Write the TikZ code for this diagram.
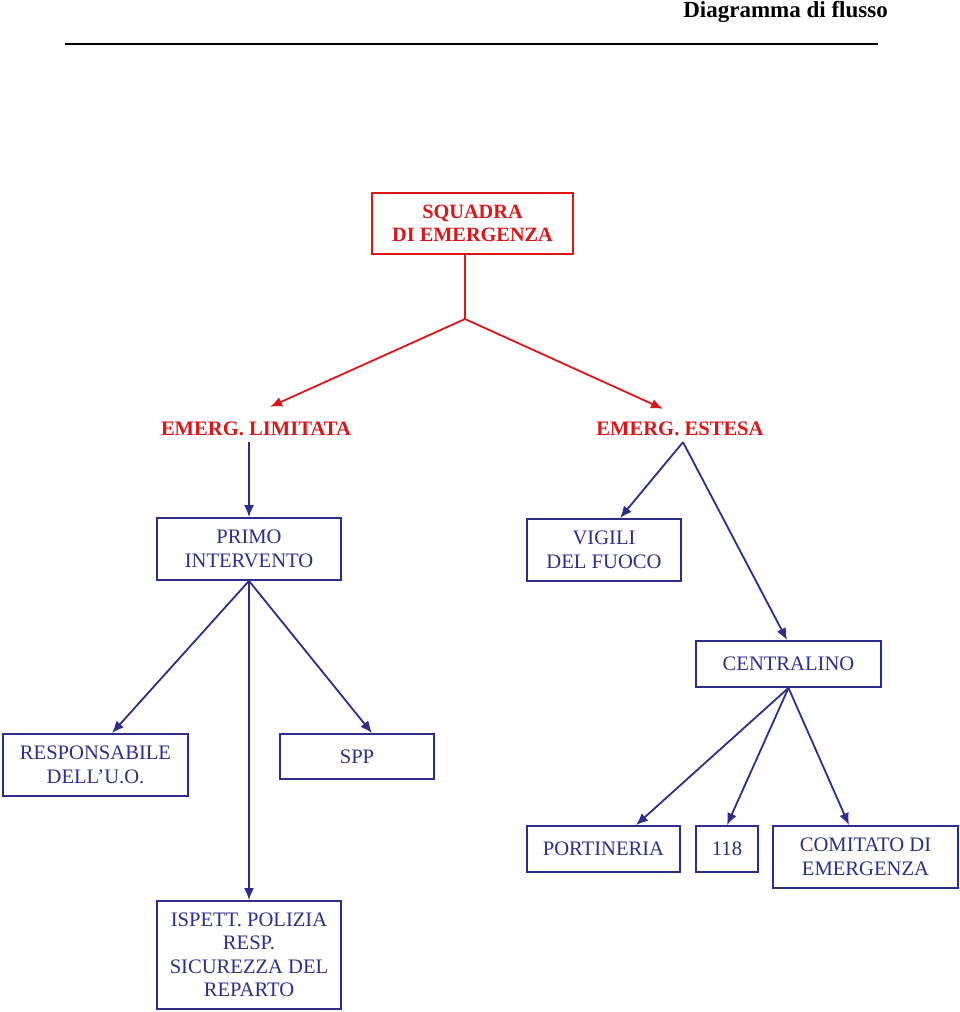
\documentclass[tikz,border=0pt]{standalone}
\usepackage{fontspec}
\setmainfont{Liberation Serif}
\usetikzlibrary{arrows.meta}
\definecolor{emred}{RGB}{220,22,22}
\definecolor{emblue}{RGB}{45,45,140}
\tikzset{
  box/.style={draw=emblue, line width=1.8pt, text=emblue, align=center, inner sep=0pt,
    font=\fontsize{20.6}{23.5}\selectfont},
  redbox/.style={draw=emred, line width=1.8pt, text=emred, align=center, inner sep=0pt,
    font=\fontsize{20.3}{23.5}\selectfont\bfseries},
  redlabel/.style={text=emred, inner sep=2pt, font=\fontsize{20.6}{23.5}\selectfont\bfseries},
  redline/.style={draw=emred, line width=1.8pt},
  redarr/.style={draw=emred, line width=1.8pt, -{Latex[length=12pt,width=10pt]}},
  bluearr/.style={draw=emblue, line width=1.8pt, -{Latex[length=12pt,width=10pt]}},
}
\begin{document}
\begin{tikzpicture}[x=1pt,y=-1pt]
\useasboundingbox (0,0) rectangle (960,1012);
% header
\node[anchor=base east, inner sep=0pt, font=\fontsize{23}{26}\selectfont\bfseries] (title) at (888,17) {Diagramma di flusso};
\coordinate (ulA) at (65,44);
\coordinate (ulB) at (878,44);
\draw[line width=1.2pt] (ulA) -- (ulB);
% nodes
\node[redbox, minimum width=201pt, minimum height=61pt] (sq) at (472.5,223.5) {SQUADRA\\DI EMERGENZA};
\coordinate (split) at (465,319);
\node[redlabel] (lim) at (256,429) {EMERG. LIMITATA};
\node[redlabel] (est) at (680,429) {EMERG. ESTESA};
\node[box, minimum width=184pt, minimum height=62pt] (primo) at (249,549) {PRIMO\\INTERVENTO};
\node[box, minimum width=154pt, minimum height=62pt] (vig) at (604,550) {VIGILI\\DEL FUOCO};
\node[box, minimum width=185pt, minimum height=46pt] (cent) at (788.5,664) {CENTRALINO};
\node[box, minimum width=185pt, minimum height=62pt] (resp) at (95.5,765) {RESPONSABILE\\DELL’U.O.};
\node[box, minimum width=154pt, minimum height=45pt] (spp) at (357,756.5) {SPP};
\node[box, minimum width=184pt, minimum height=108pt] (isp) at (249,955) {ISPETT. POLIZIA\\RESP.\\SICUREZZA DEL\\REPARTO};
\node[box, minimum width=153pt, minimum height=46pt] (port) at (603.5,849) {PORTINERIA};
\node[box, minimum width=62pt, minimum height=46pt] (n118) at (727,849) {118};
\node[box, minimum width=185pt, minimum height=62pt] (com) at (865.5,857) {COMITATO DI\\EMERGENZA};
% red connectors
\draw[redline] ([xshift=-7.5pt]sq.south) -- (split);
\draw[redarr] (split) -- ([xshift=14pt,yshift=13pt]lim.north);
\draw[redarr] (split) -- ([xshift=-17pt,yshift=11pt]est.north);
% blue connectors
\draw[bluearr] ([xshift=-7pt,yshift=-4pt]lim.south) -- (primo.north);
\draw[bluearr] ([xshift=3pt,yshift=-4pt]est.south) -- ([xshift=16pt]vig.north);
\draw[bluearr] ([xshift=3pt,yshift=-4pt]est.south) -- ([xshift=-1.5pt]cent.north);
\draw[bluearr] (primo.south) -- ([xshift=16.5pt]resp.north);
\draw[bluearr] (primo.south) -- (isp.north);
\draw[bluearr] (primo.south) -- ([xshift=15pt]spp.north);
\draw[bluearr] (cent.south) -- ([xshift=32.5pt]port.north);
\draw[bluearr] (cent.south) -- (n118.north);
\draw[bluearr] (cent.south) -- ([xshift=-16.5pt]com.north);
\end{tikzpicture}
\end{document}
